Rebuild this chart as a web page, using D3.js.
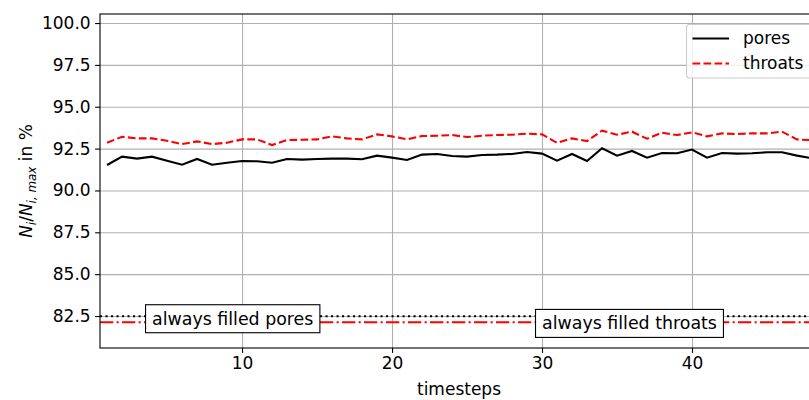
<!DOCTYPE html>
<html>
<head>
<meta charset="utf-8">
<script src="https://cdn.jsdelivr.net/npm/d3@7"></script>
<style>
    body { margin: 0; background: #fff; }
    text { font-family: "DejaVu Sans", sans-serif; }
</style>
</head>
<body>
<div id="ChartContainer"></div>
<script>
// Data
const timesteps = [1, 2, 3, 4, 5, 6, 7, 8, 9, 10, 11, 12, 13, 14, 15, 16, 17, 18, 19, 20, 21, 22, 23, 24,
    25, 26, 27, 28, 29, 30, 31, 32, 33, 34, 35, 36, 37, 38, 39, 40, 41, 42, 43, 44, 45, 46, 47, 48];
const pores = [91.52, 92.02, 91.90, 92.02, 91.78, 91.54, 91.88, 91.54, 91.66, 91.76, 91.74, 91.66,
    91.88, 91.84, 91.88, 91.90, 91.90, 91.86, 92.08, 91.96, 91.82, 92.14, 92.18, 92.06,
    92.02, 92.12, 92.14, 92.18, 92.30, 92.20, 91.78, 92.18, 91.76, 92.52, 92.08, 92.36,
    91.96, 92.24, 92.22, 92.44, 91.96, 92.24, 92.20, 92.22, 92.28, 92.28, 92.08, 91.92];
const throats = [92.85, 93.21, 93.11, 93.11, 92.97, 92.77, 92.93, 92.77, 92.85, 93.05, 93.05, 92.71,
    93.01, 93.03, 93.05, 93.23, 93.11, 93.05, 93.35, 93.23, 93.05, 93.25, 93.27, 93.31,
    93.19, 93.27, 93.31, 93.33, 93.39, 93.35, 92.85, 93.11, 92.95, 93.57, 93.33, 93.51,
    93.09, 93.45, 93.31, 93.47, 93.23, 93.41, 93.37, 93.41, 93.41, 93.51, 93.05, 93.00];
const alwaysFilledPores = 82.49;
const alwaysFilledThroats = 82.13;
const xTicks = [10, 20, 30, 40];
const yTicks = [82.5, 85.0, 87.5, 90.0, 92.5, 95.0, 97.5, 100.0];
const annotations = [
    { label: "always filled pores", t: 4, v: 81.98 },
    { label: "always filled throats", t: 30, v: 81.70 }
];

const width = 809, height = 400;
const plotLeft = 100, plotTop = 14, plotRight = 818, plotBottom = 348;
const fontSize = 17;
const lw = 2.08;

const svg = d3.select("#ChartContainer").append("svg")
    .attr("width", width).attr("height", height);

const x = d3.scaleLinear().domain([0.53, 48.4]).range([plotLeft, plotRight]);
const y = d3.scaleLinear().domain([80.59, 100.54]).range([plotBottom, plotTop]);

// grid
svg.append("g").attr("transform", `translate(0,${plotBottom})`)
    .call(d3.axisBottom(x).tickValues(xTicks).tickSize(-(plotBottom - plotTop)).tickFormat(""))
    .call(g => g.select(".domain").remove())
    .call(g => g.selectAll("line").attr("stroke", "#b0b0b0").attr("stroke-width", 1.1));
svg.append("g").attr("transform", `translate(${plotLeft},0)`)
    .call(d3.axisLeft(y).tickValues(yTicks).tickSize(-(plotRight - plotLeft)).tickFormat(""))
    .call(g => g.select(".domain").remove())
    .call(g => g.selectAll("line").attr("stroke", "#b0b0b0").attr("stroke-width", 1.1));

// horizontal reference lines
svg.append("line").attr("x1", plotLeft).attr("x2", plotRight)
    .attr("y1", y(alwaysFilledPores)).attr("y2", y(alwaysFilledPores))
    .attr("stroke", "black").attr("stroke-width", lw).attr("stroke-dasharray", "2.1,3.4");
svg.append("line").attr("x1", plotLeft).attr("x2", plotRight)
    .attr("y1", y(alwaysFilledThroats)).attr("y2", y(alwaysFilledThroats))
    .attr("stroke", "red").attr("stroke-width", lw).attr("stroke-dasharray", "13.3,3.3,2.1,3.3");

// series lines
const line = d3.line().x((d, i) => x(timesteps[i])).y(d => y(d));
svg.append("path").datum(pores).attr("d", line)
    .attr("fill", "none").attr("stroke", "black").attr("stroke-width", lw);
svg.append("path").datum(throats).attr("d", line)
    .attr("fill", "none").attr("stroke", "red").attr("stroke-width", lw)
    .attr("stroke-dasharray", "7.7,3.3");

// annotation boxes
annotations.forEach(a => {
    const g = svg.append("g");
    const txt = g.append("text").attr("x", x(a.t)).attr("y", y(a.v))
        .attr("font-size", 17.4).attr("fill", "black").text(a.label);
    const bb = txt.node().getBBox();
    const padX = 6.5, padY = 4;
    g.insert("rect", "text")
        .attr("x", bb.x - padX).attr("y", bb.y - padY)
        .attr("width", bb.width + 2 * padX).attr("height", bb.height + 2 * padY)
        .attr("fill", "white").attr("stroke", "black").attr("stroke-width", 1.1);
});

// axes
const xAxis = svg.append("g").attr("transform", `translate(0,${plotBottom})`)
    .call(d3.axisBottom(x).tickValues(xTicks).tickSize(4.9).tickPadding(4.5).tickSizeOuter(0));
const yAxis = svg.append("g").attr("transform", `translate(${plotLeft},0)`)
    .call(d3.axisLeft(y).tickValues(yTicks).tickSize(4.9).tickPadding(4.5).tickSizeOuter(0)
        .tickFormat(d3.format(".1f")));
[xAxis, yAxis].forEach(g => {
    g.selectAll("text").attr("font-size", fontSize).attr("font-family", "DejaVu Sans").attr("fill", "black");
    g.selectAll("line").attr("stroke", "black").attr("stroke-width", 1.1);
    g.select(".domain").remove();
});

// frame
svg.append("rect").attr("x", plotLeft).attr("y", plotTop)
    .attr("width", plotRight - plotLeft).attr("height", plotBottom - plotTop)
    .attr("fill", "none").attr("stroke", "black").attr("stroke-width", 1.1);

// axis labels
svg.append("text").attr("x", (plotLeft + plotRight) / 2).attr("y", 395)
    .attr("text-anchor", "middle").attr("font-size", fontSize).text("timesteps");

const yl = svg.append("text")
    .attr("transform", `translate(31.5,${(plotTop + plotBottom) / 2}) rotate(-90)`)
    .attr("text-anchor", "middle").attr("font-size", fontSize);
yl.append("tspan").attr("font-style", "italic").text("N");
yl.append("tspan").attr("font-style", "italic").attr("font-size", fontSize * 0.7).attr("dy", 4).text("i");
yl.append("tspan").attr("dy", -4).text("/");
yl.append("tspan").attr("font-style", "italic").text("N");
yl.append("tspan").attr("font-style", "italic").attr("font-size", fontSize * 0.7).attr("dy", 4).text("i, max");
yl.append("tspan").attr("dy", -4).text(" in %");

// legend
const legend = svg.append("g");
legend.append("rect").attr("x", 686.5).attr("y", 24.5).attr("width", 130).attr("height", 53.5)
    .attr("rx", 3).attr("fill", "white").attr("fill-opacity", 0.8)
    .attr("stroke", "#cccccc").attr("stroke-width", 1.1);
const items = [
    { label: "pores", color: "black", dash: null },
    { label: "throats", color: "red", dash: "7.7,3.3" }
];
items.forEach((d, i) => {
    const cy = 38.5 + i * 25;
    legend.append("line").attr("x1", 692.5).attr("x2", 729).attr("y1", cy).attr("y2", cy)
        .attr("stroke", d.color).attr("stroke-width", lw).attr("stroke-dasharray", d.dash);
    legend.append("text").attr("x", 743).attr("y", cy).attr("dy", "0.35em")
        .attr("font-size", fontSize).text(d.label);
});
</script>
</body>
</html>
